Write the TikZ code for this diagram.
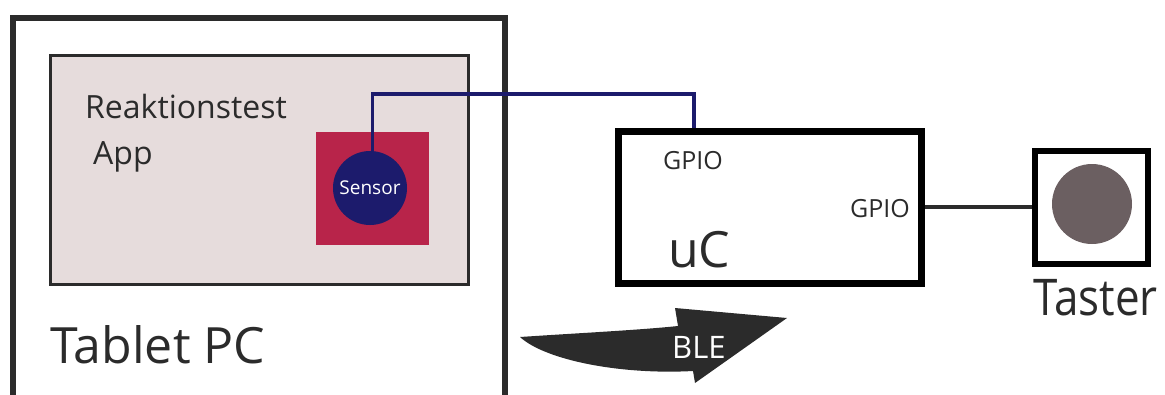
\documentclass[tikz,border=0pt]{standalone}
\usepackage{fontspec}
\setmainfont{Open Sans}
\usepackage{tikz}
\usetikzlibrary{positioning,calc}
\definecolor{appbg}{HTML}{E6DCDC}
\definecolor{sensred}{HTML}{B8244A}
\definecolor{sensblue}{HTML}{1C1B6C}
\definecolor{knobgrey}{HTML}{6B5F61}
\definecolor{framegrey}{HTML}{2B2B2B}
\tikzstyle{wire} = [draw, line width=3.5pt]
\tikzstyle{box} = [draw, rectangle, inner sep=0pt]
\newcommand{\fs}[1]{\fontsize{#1}{#1}\selectfont}

\begin{document}
\begin{tikzpicture}[x=1pt, y=-1pt,
label/.style={anchor=base west, inner sep=0pt, text=framegrey}]
\useasboundingbox (0,0) rectangle (1165,394);
%% Tablet
\node [box, line width=6pt, draw=framegrey, minimum width=492pt,
minimum height=420pt] (tablet) at (258.5,228) {};
\node [box, line width=3pt, draw=framegrey, fill=appbg, minimum width=418pt,
minimum height=229pt] (app) at (259,169.5) {};
\node [box, draw=none, fill=sensred, minimum size=113pt] (pad) at (372.5,188.5) {};
\node [label, font=\fs{32}] (apptext) at (85,118) {Reaktionstest};
\node [label, font=\fs{32}] (apptext2) at (93,164) {App};
\node [label, font=\fs{50}] (tablettext) at (50,363) {Tablet PC};
%% Controller and button
\node [box, line width=7pt, minimum width=303pt, minimum height=152pt] (uc) at (769.5,207) {};
\node [label, font=\fs{25}] (gpio1) at (663,169) {GPIO};
\node [label, font=\fs{25}] (gpio2) at (850,217) {GPIO};
\node [label, font=\fs{50}] (uctext) at (668,267) {uC};
\node [box, line width=6pt, minimum size=113pt] (taster) at (1091.5,207) {};
\node [circle, fill=knobgrey, minimum size=80pt, inner sep=0pt] (knob) at (1092,204) {};
\node [label, font=\fs{44}] (tastertext) at (1033,315) {\scalebox{1}[1.15]{Taster}};
%% Wires
\coordinate (bend) at (694,94);
\path [wire, draw=sensblue] (pad.center) |- (bend) -- (uc.north -| bend);
\path [wire, draw=framegrey] (uc.east) -- (taster.west);
\node [circle, fill=sensblue, minimum size=74pt, inner sep=0pt, text=white,
font=\fs{19}] (sensor) at (370,188) {Sensor};
%% BLE arrow
\fill [framegrey] (520,337) .. controls (580,333) and (640,330) .. (678,326)
-- (675,308) -- (787,318) -- (695,383) -- (693,371)
.. controls (620,375) and (545,360) .. (520,337) -- cycle;
\node [label, text=white, font=\fs{31}] (ble) at (672,358) {BLE};
\end{tikzpicture}
\end{document}
